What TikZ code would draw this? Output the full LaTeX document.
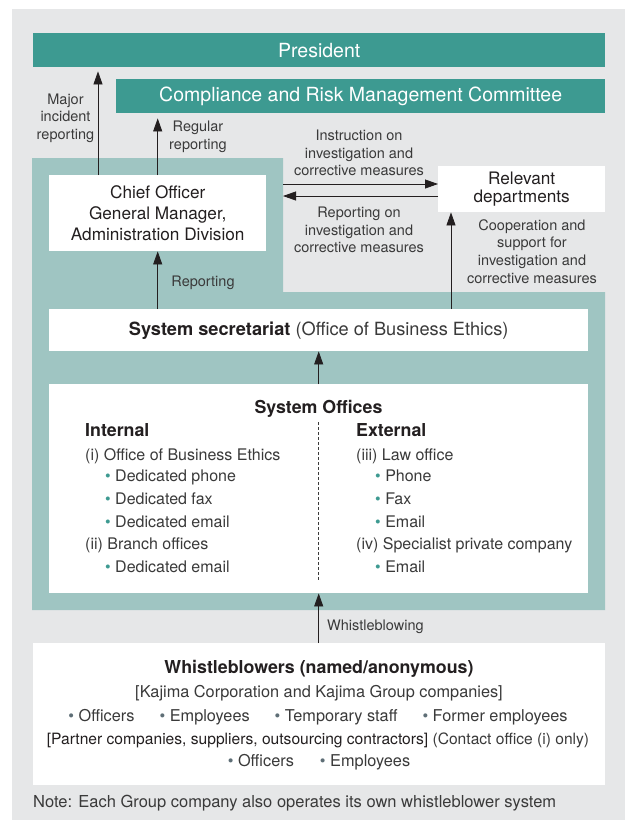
\documentclass[tikz,border=0pt]{standalone}
\usepackage{fontspec}
\setmainfont{TeX Gyre Heros}
\usetikzlibrary{arrows.meta,positioning}
\usepackage{xcolor}

\definecolor{bggray}{HTML}{E6E7E8}
\definecolor{tealdk}{HTML}{3D9A91}
\definecolor{teallt}{HTML}{9FC5C2}
\definecolor{txtdk}{HTML}{231F20}
\definecolor{txtgy}{HTML}{3A3A3A}
\definecolor{bulgy}{HTML}{5E6E76}

\newcommand{\fsz}[2]{\fontsize{#1}{#2}\selectfont}
\newcommand{\tbul}{{\color{tealdk}\textbullet}}
\newcommand{\gbul}{{\color{bulgy}\textbullet}}

\begin{document}
\begin{tikzpicture}[x=1pt, y=-1pt, >={Triangle[length=13pt,width=9pt]},
  bar/.style={fill=tealdk, text=white, font=\fsz{19.5}{23}, inner sep=0pt, anchor=north west},
  wbox/.style={fill=white, text=txtdk, inner sep=0pt, anchor=north west, align=center},
  lbl/.style={text=txtgy, font=\fsz{14.5}{17.7}, align=center, inner sep=0pt},
  itm/.style={text=txtgy, font=\fsz{16}{19}, anchor=west, inner sep=0pt, text height=11.5pt, text depth=3.5pt},
  ttl/.style={text=txtdk, font=\bfseries\fsz{17.8}{21}, inner sep=0pt, text height=12.8pt, text depth=3.5pt},
  link/.style={->, draw=txtdk, line width=0.8pt}]
  %% Page and background
  \useasboundingbox (0,0) rectangle (625,820);
  \fill[bggray] (12,9) rectangle (625,820);
  %% Light teal zone (chief officer + system offices)
  \fill[teallt] (32,158) -- (283,158) -- (283,292) -- (605,292) -- (605,610) -- (32,610) -- cycle;

  %% Top bars
  \node[bar, minimum width=572pt, minimum height=34pt] (president) at (33,33) {President};
  \node[bar, minimum width=489pt, minimum height=34pt] (committee) at (116,79)
    {Compliance and Risk Management Committee};

  %% White boxes
  \node[wbox, font=\fsz{17.2}{21}, minimum width=217pt, minimum height=76pt] (chief) at (49,175)
    {Chief Officer\\General Manager,\\Administration Division};
  \node[wbox, font=\fsz{17.2}{17.5}, minimum width=167pt, minimum height=46pt] (relevant) at (438,166)
    {Relevant\\departments};
  \node[wbox, font=\fsz{18.2}{21}, minimum width=539pt, minimum height=42pt] (secretariat) at (49,309)
    {\textbf{System secretariat} {\color{txtgy}(Office of Business Ethics)}};
  \node[wbox, minimum width=539pt, minimum height=209pt] (offices) at (49,384) {};
  \node[wbox, minimum width=572pt, minimum height=142pt] (whistle) at (33,643) {};

  %% System offices: two columns
  \node[ttl] (offtitle) at (318.5,409) {System Offices};
  \node[ttl, anchor=west] (internal) at (85,432) {Internal};
  \node[ttl, anchor=west] (external) at (356,432) {External};
  \draw[txtgy, line width=0.6pt, dash pattern=on 3pt off 2pt] (318.5,422) -- (318.5,580);

  \node[itm] (int1)  at (85,456)  {(i) Office of Business Ethics};
  \node[itm] (int1a) at (105,477) {\tbul\ Dedicated phone};
  \node[itm] (int1b) at (105,500) {\tbul\ Dedicated fax};
  \node[itm] (int1c) at (105,523) {\tbul\ Dedicated email};
  \node[itm] (int2)  at (85,545)  {(ii) Branch offices};
  \node[itm] (int2a) at (105,568) {\tbul\ Dedicated email};

  \node[itm] (ext3)  at (356,456) {(iii) Law office};
  \node[itm] (ext3a) at (375,477) {\tbul\ Phone};
  \node[itm] (ext3b) at (375,500) {\tbul\ Fax};
  \node[itm] (ext3c) at (375,523) {\tbul\ Email};
  \node[itm] (ext4)  at (356,545) {(iv) Specialist private company};
  \node[itm] (ext4a) at (375,568) {\tbul\ Email};

  %% Whistleblowers
  \node[ttl] (wbtitle) at (319,669) {Whistleblowers (named/anonymous)};
  \node[itm, anchor=center, font=\fsz{16.3}{19}] (wbgroup) at (319,693)
    {[Kajima Corporation and Kajima Group companies]};
  \node[itm, anchor=center, font=\fsz{16.3}{19}] (wbstaff) at (318,717)
    {\gbul\ Officers\hspace{25pt}\gbul\ Employees\hspace{25pt}\gbul\ Temporary staff\hspace{25pt}\gbul\ Former employees};
  \node[itm, anchor=center, font=\fsz{15.6}{19}] (wbpartner) at (318,740)
    {{\color{txtdk}[Partner companies, suppliers, outsourcing contractors]} (Contact office (i) only)};
  \node[itm, anchor=center, font=\fsz{16.3}{19}] (wbstaff2) at (319,762)
    {\gbul\ Officers\hspace{26pt}\gbul\ Employees};

  \node[itm, font=\fsz{16.5}{19}] (note) at (33,803) {Note: Each Group company also operates its own whistleblower system};

  %% Connectors
  \coordinate (majx) at (98,0);
  \coordinate (coopx) at (451,0);
  \coordinate (instry) at (283,184);
  \coordinate (repy) at (283,196);

  \draw[link, shorten >=4pt] (chief.north -| majx) -- (president.south -| majx);
  \draw[link, shorten >=5pt] (chief.north) -- (chief.north |- committee.south);
  \draw[link] (instry) -- (instry -| relevant.west);
  \draw[link] (repy -| relevant.west) -- (repy);
  \draw[link] (secretariat.north -| chief.south) -- (chief.south);
  \draw[link] (secretariat.north -| coopx) -- (relevant.south -| coopx);
  \draw[link] (offices.north) -- (secretariat.south);
  \draw[link] (whistle.north -| offices.south) -- (offices.south);

  %% Connector labels
  \node[lbl] (majlbl)   at (65.5,118) {Major\\incident\\reporting};
  \node[lbl] (reglbl)   at (198,137)  {Regular\\reporting};
  \node[lbl] (instrlbl) at (359,153)  {Instruction on\\investigation and\\corrective measures};
  \node[lbl] (replbl)   at (359,230)  {Reporting on\\investigation and\\corrective measures};
  \node[lbl] (cooplbl)  at (532,251.5) {Cooperation and\\support for\\investigation and\\corrective measures};
  \node[lbl] (rptlbl)   at (203,283)  {Reporting};
  \node[lbl, anchor=west] (wblbl) at (327,627) {Whistleblowing};
\end{tikzpicture}
\end{document}
